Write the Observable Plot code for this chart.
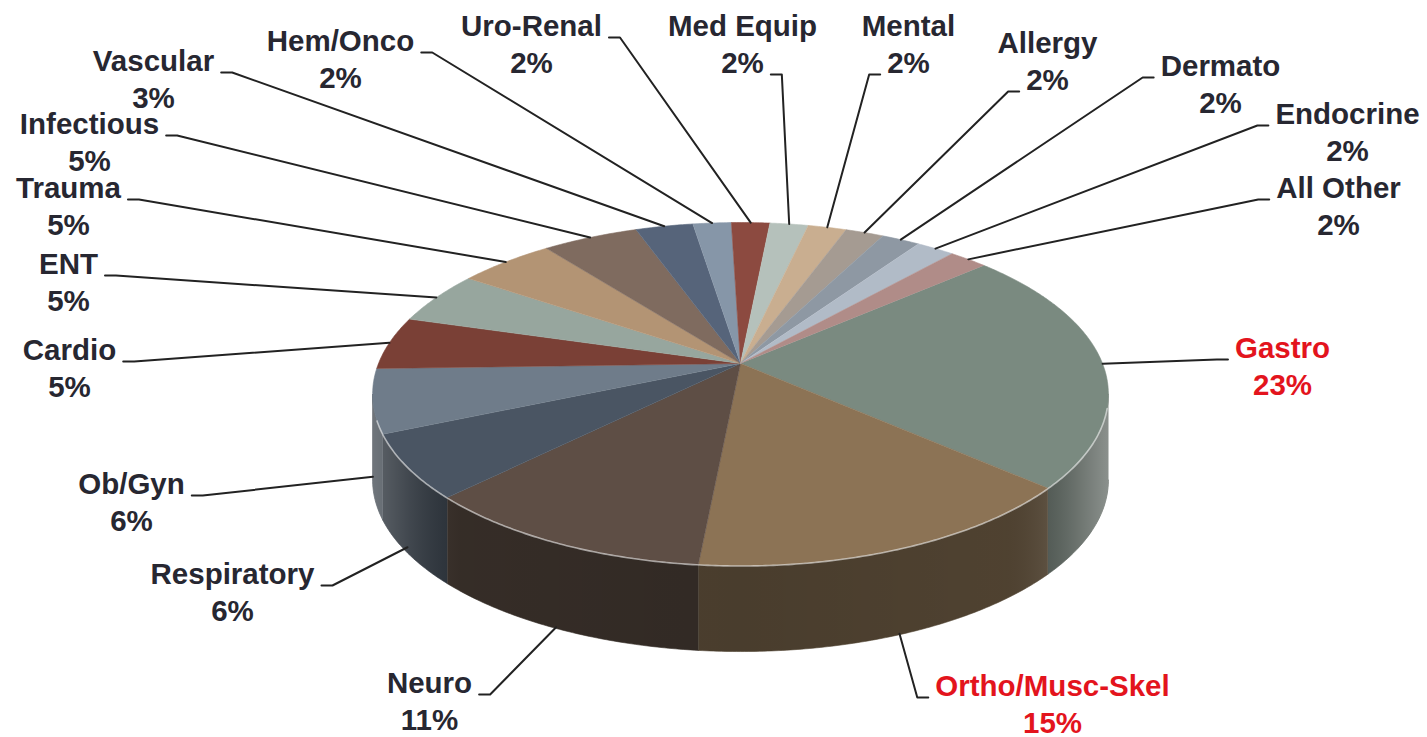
<!DOCTYPE html>
<html><head><meta charset="utf-8">
<script src="https://cdn.jsdelivr.net/npm/d3@7"></script>
<script src="https://cdn.jsdelivr.net/npm/@observablehq/plot@0.6"></script>
<style>
html,body{margin:0;padding:0;background:#fff;}
#chart svg{display:block;}
</style></head>
<body><div id="chart"></div>
<script>
// ---------- data ----------
const categories = ["Gastro","Ortho/Musc-Skel","Neuro","Respiratory","Ob/Gyn","Cardio","ENT","Trauma","Infectious","Vascular","Hem/Onco","Uro-Renal","Med Equip","Mental","Allergy","Dermato","Endocrine","All Other"];
const shares = [23,15,11,6,6,5,5,5,5,3,2,2,2,2,2,2,2,2];
const sliceColors = ["#7a8a80","#8c7355","#5e4e45","#4a5563","#6f7c8a","#7a4036","#97a69e","#b39474","#7f6b5f","#56647a","#8696a8","#8c4a40","#b5c1bb","#c9ae90","#a59b92","#8e98a3","#b1bbc7","#b08c88"];
const highlighted = ["Gastro","Ortho/Musc-Skel"];

// ---------- label layout (annotation placement) ----------
const labelX = [1282,1052,429,232,131,69,68,68,89,153,340,531,742,908,1047,1220,1347,1338];
const labelY = [357,695,692,583,493,359,273,197,133,70,50,35,35,35,52,75,123,197];
const leaderRow = [0,0,0,0,0,0,0,0,0,0,0,0,1,1,1,0,0,0];
const leaderSide = [-1,-1,1,1,1,1,1,1,1,1,1,1,1,-1,-1,-1,-1,-1];

// ---------- geometry ----------
const W = 1427, H = 737;
const startAngle = 48.7 * Math.PI / 180;
const CX = 740, YH = -570, B = 933, K = 0.178, A = 362, T = 86;
const FS = 29.5, LH = 37;
const proj = (phi, drop = 0) => {
  const d = 1 + K * Math.cos(phi);
  return [CX + A * Math.sin(phi) / d, YH + B / d + drop];
};
const center = [CX, YH + B];
const arcPts = (a, b, drop = 0) => {
  const n = Math.max(2, Math.ceil((b - a) / (Math.PI / 360)));
  return d3.range(n + 1).map(i => proj(a + (b - a) * i / n, drop));
};
const arcs = d3.pie().sort(null).startAngle(startAngle).endAngle(startAngle + 2 * Math.PI)(shares);
const phiMin = Math.acos(-K), phiMax = 2 * Math.PI - phiMin;

const topRows = [], sideRows = [];
arcs.forEach((s, i) => {
  [center, ...arcPts(s.startAngle, s.endAngle)].forEach(([x, y]) => topRows.push({i, x, y, c: sliceColors[i]}));
  const a = Math.max(s.startAngle, phiMin), b = Math.min(s.endAngle, phiMax);
  if (a < b) {
    const dk = d3.rgb(sliceColors[i]).darker(1.45).formatHex();
    [...arcPts(a, b), ...arcPts(a, b, T).reverse()].forEach(([x, y]) => sideRows.push({i, x, y, c: dk}));
  }
});
const bandRows = [...arcPts(phiMin, phiMax), ...arcPts(phiMin, phiMax, T).reverse()].map(([x, y]) => ({x, y}));
const shadowRows = [...arcPts(phiMin - 0.3, phiMax + 0.3, T)].map(([x, y]) => ({x: x + 6, y: y + 4}));
const rimRows = arcPts(phiMin + 0.08, phiMax - 0.15).map(([x, y]) => ({x, y: y + 0.5}));

// text measurement for leader start points
const ctx = document.createElement("canvas").getContext("2d");
ctx.font = `bold ${FS}px "Liberation Sans", Arial, sans-serif`;
const leaderRows = [];
const nameRows = [], pctRows = [];
arcs.forEach((s, i) => {
  const name = categories[i], pct = shares[i] + "%";
  const col = highlighted.includes(name) ? "#e3141d" : "#272731";
  nameRows.push({x: labelX[i], y: labelY[i], t: name, c: col});
  pctRows.push({x: labelX[i], y: labelY[i] + LH, t: pct, c: col});
  const mid = (s.startAngle + s.endAngle) / 2;
  const v = -Math.cos(mid);
  const drop = v > K ? T * (0.85 + 0.15 * v) : 0;
  const [ax, ay] = proj(mid, drop);
  const w = ctx.measureText(leaderRow[i] ? pct : name).width;
  const sx = labelX[i] + leaderSide[i] * (w / 2 + 7);
  const sy = labelY[i] + leaderRow[i] * LH + 2;
  const ex = sx + leaderSide[i] * 11;
  [[sx, sy], [ex, sy], [ax, ay]].forEach(([x, y]) => leaderRows.push({i, x, y}));
});

const chart = Plot.plot({
  width: W, height: H, margin: 0,
  x: {domain: [0, W], range: [0, W], axis: null},
  y: {domain: [0, H], range: [0, H], axis: null},
  color: {type: "identity"},
  style: {background: "#fff", overflow: "visible"},
  marks: [
    Plot.line(shadowRows, {x: "x", y: "y", fill: "#000", fillOpacity: 0.4, stroke: "#000", strokeOpacity: 0.4, strokeWidth: 8, ariaLabel: "shadow"}),
    Plot.line(sideRows, {x: "x", y: "y", z: "i", fill: "c", stroke: "c", strokeWidth: 0.6}),
    Plot.line(bandRows, {x: "x", y: "y", fill: "url(#sideShade)", stroke: "none"}),
    Plot.line(topRows, {x: "x", y: "y", z: "i", fill: "c", stroke: "c", strokeWidth: 0.6}),
    Plot.line(rimRows, {x: "x", y: "y", stroke: "#ffffff", strokeOpacity: 0.55, strokeWidth: 1.6}),
    Plot.line(leaderRows, {x: "x", y: "y", z: "i", stroke: "#222", strokeWidth: 2}),
    Plot.text(nameRows, {x: "x", y: "y", text: "t", fill: "c", lineAnchor: "bottom", textAnchor: "middle", fontSize: FS, fontWeight: "bold", fontFamily: "'Liberation Sans', Arial, sans-serif"}),
    Plot.text(pctRows, {x: "x", y: "y", text: "t", fill: "c", lineAnchor: "bottom", textAnchor: "middle", fontSize: FS, fontWeight: "bold", fontFamily: "'Liberation Sans', Arial, sans-serif"})
  ]
});

const svg = d3.select(chart);
const defs = svg.insert("defs", ":first-child");
const g = defs.append("linearGradient").attr("id", "sideShade").attr("x1", 0).attr("x2", 1).attr("y1", 0).attr("y2", 0);
[[0, "#ffffff", 0.24], [0.05, "#ffffff", 0.1], [0.12, "#000000", 0.05], [0.5, "#000000", 0.12], [0.86, "#000000", 0.05], [0.95, "#ffffff", 0.16], [1, "#ffffff", 0.36]]
  .forEach(([o, c, a]) => g.append("stop").attr("offset", o).attr("stop-color", c).attr("stop-opacity", a));
defs.append("filter").attr("id", "blurShadow").attr("x", "-10%").attr("y", "-30%").attr("width", "120%").attr("height", "160%")
  .append("feGaussianBlur").attr("stdDeviation", 6);
svg.select('g[aria-label="shadow"]').attr("filter", "url(#blurShadow)");
document.getElementById("chart").appendChild(chart);
</script>
</body></html>
